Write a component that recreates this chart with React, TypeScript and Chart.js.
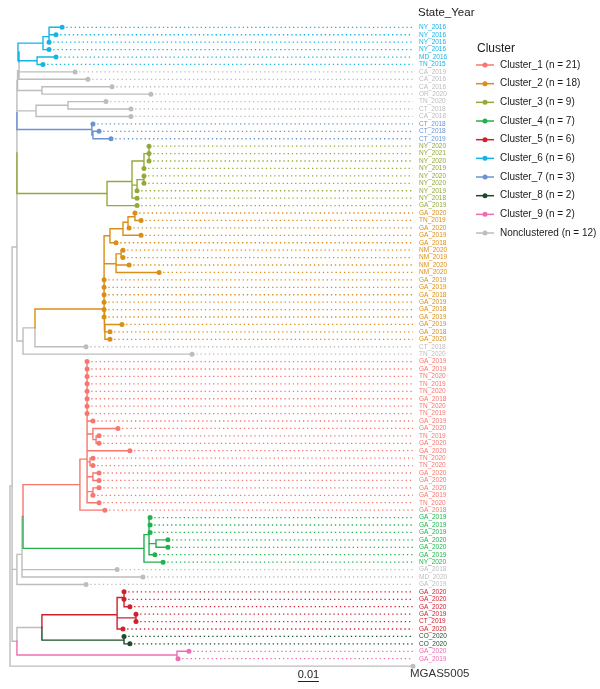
import React, { useEffect, useRef } from 'react';
import { Chart, registerables } from 'chart.js';
Chart.register(...registerables);

// ---------- DATA ----------
const TIP_LABELS = [
  'NY_2016','NY_2016','NY_2016','NY_2016','MD_2016','TN_2015',
  'CA_2019','CA_2016','CA_2016','OR_2020','TN_2020','CT_2018','CA_2018',
  'CT_2018','CT_2018','CT_2019',
  'NY_2020','NY_2021','NY_2020','NY_2019','NY_2020','NY_2020','NY_2019','NY_2018','GA_2019',
  'GA_2020','TN_2019','GA_2020','GA_2019','GA_2018','NM_2020','NM_2019','NM_2020','NM_2020',
  'GA_2019','GA_2019','GA_2018','GA_2019','GA_2018','GA_2019','GA_2019','GA_2018','GA_2020',
  'CT_2018','TN_2020',
  'GA_2019','GA_2019','TN_2020','TN_2019','TN_2020','GA_2018','TN_2020','TN_2019','GA_2019','GA_2020',
  'TN_2019','GA_2020','GA_2020','TN_2020','TN_2020','GA_2020','GA_2020','GA_2020','GA_2019','TN_2020','GA_2018',
  'GA_2019','GA_2019','GA_2019','GA_2020','GA_2020','GA_2019','NY_2020',
  'GA_2018','MD_2020','GA_2019',
  'GA_2020','GA_2020','GA_2020','GA_2019','CT_2019','GA_2020',
  'CO_2020','CO_2020',
  'GA_2020','GA_2019',
  'MGAS5005',
];

// cluster index per tip (0..8 = Cluster_1..Cluster_9, 9 = Nonclustered)
const TIP_CLUSTER = [
  5,5,5,5,5,5,
  9,9,9,9,9,9,9,
  6,6,6,
  2,2,2,2,2,2,2,2,2,
  1,1,1,1,1,1,1,1,1,1,1,1,1,1,1,1,1,1,
  9,9,
  0,0,0,0,0,0,0,0,0,0,0,0,0,0,0,0,0,0,0,0,0,
  3,3,3,3,3,3,3,
  9,9,9,
  4,4,4,4,4,4,
  7,7,
  8,8,
  9,
];

// tip depth from root (units of 0.001 substitutions/site)
const TIP_DEPTH = [
  24.8,21.9,18.6,18.6,21.9,15.7,
  31.0,37.1,48.6,67.1,45.7,57.6,57.6,
  39.5,42.4,48.1,
  66.2,66.2,66.2,63.8,63.8,63.8,60.5,60.5,60.5,
  59.5,62.4,56.7,62.4,50.5,53.8,53.8,56.7,71.0,44.8,44.8,44.8,44.8,44.8,44.8,53.3,47.6,47.6,
  36.2,86.7,
  36.7,36.7,36.7,36.7,36.7,36.7,36.7,36.7,39.5,51.4,42.4,42.4,57.1,39.5,39.5,42.4,42.4,42.4,39.5,42.4,45.2,
  66.7,66.7,66.7,75.2,75.2,69.0,72.9,
  51.0,63.3,36.2,
  54.3,54.3,57.1,60.0,60.0,53.8,
  54.3,57.1,
  85.2,80.0,
  191.9,
];

// Topology: "(children):depth" for internal nodes, tips given by 1-based position
const CLADE_6 = '((((1,2):18.6,3):18.6,4):15.7,(5,6):12.9):3.8';
const CLADE_7 = '(14,(15,16):39.5):39.0';
const CLADE_3 = '((((17,18,19):66.2,20):63.8,((21,22):63.8,23):60.5,24):58.1,25):46.2';
const CLADE_2A = '((((26,27):59.5,28):56.2,29):53.8,30):47.6';
const CLADE_2E = '((31,32):52.9,33,34):50.5';
const CLADE_1 = '(((46,47,48,49,50,51,52,53,54,(55,(56,57):41.0):39.5,58):36.7,(59,60):38.1,(61,62):39.5,((63,64):39.5,65):36.7):36.7,66):33.3';
const CLADE_4 = '((67,68,69,(70,71):69.5,72):66.2,73):63.8';
const CLADE_5 = '((77,(78,79):54.3):54.3,(80,81):60.0,82):51.0';
const CLADE_8 = '(83,84):54.3';
const CLADE_9 = '(85,86):79.5';

const CLADE_2 = `((${CLADE_2A},${CLADE_2E},35,36,37,38,39,40):44.8,(41,42,43):45.2):44.8`;
const UPPER = `((((((((${CLADE_6},7):4.3,8):4.3,(9,10):15.2):3.6,((11,12):27.6,13):12.4):3.3,${CLADE_7}):3.3,${CLADE_3}):3.3,((${CLADE_2},44):11.9,45):6.2):3.3`;
const MIDDLE = `(((${CLADE_1},${CLADE_4}):6.2,74,75):5.7,76):3.3`;
const LOWER = `((${CLADE_5},${CLADE_8}):15.2,${CLADE_9}):3.3`;
const TREE = `((${UPPER},${MIDDLE},${LOWER}):1.0,87):0`;

const CLUSTER_NAMES = ['Cluster_1','Cluster_2','Cluster_3','Cluster_4','Cluster_5','Cluster_6','Cluster_7','Cluster_8','Cluster_9','Nonclustered'];
const CLUSTER_COUNTS = [21, 18, 9, 7, 6, 6, 3, 2, 2, 12];
const CLUSTER_COLORS = ['#F8766D','#DB8E16','#93AA3A','#22B24C','#D0202E','#16B4E6','#6A93D4','#1B4D2C','#EE6DB0','#BDBDBD'];
const SCALE_BAR = 10; // 0.01 substitutions/site
const SCALE_BAR_LABEL = '0.01';
const LEGEND_TITLE = 'Cluster';
const TIP_TITLE = 'State_Year';

// ---------- TREE BUILD ----------
type TNode = { tip?: number; kids?: TNode[]; x: number; y: number; c: number };

function parseTree(src: string): TNode {
  const s = src.replace(/\s+/g, '');
  let i = 0;
  const num = () => {
    const st = i;
    while (i < s.length && /[0-9.\-]/.test(s[i])) i++;
    return parseFloat(s.slice(st, i));
  };
  const node = (): TNode => {
    if (s[i] === '(') {
      i++;
      const kids: TNode[] = [node()];
      while (s[i] === ',') { i++; kids.push(node()); }
      i++; // ')'
      i++; // ':'
      const d = num();
      const y = kids.reduce((a, k) => a + k.y, 0) / kids.length;
      const c0 = kids[0].c;
      const c = kids.every((k) => k.c === c0) ? c0 : 9;
      return { kids, x: d, y, c };
    }
    const t = num() - 1;
    return { tip: t, x: TIP_DEPTH[t], y: t, c: TIP_CLUSTER[t] };
  };
  return node();
}

function buildDatasets() {
  const root = parseTree(TREE);
  const branches: { x: number; y: number }[][] = CLUSTER_COLORS.map(() => []);
  const walk = (n: TNode) => {
    if (!n.kids) return;
    n.kids.forEach((k) => {
      branches[k.c].push({ x: n.x, y: n.y }, { x: n.x, y: k.y }, { x: k.x, y: k.y }, { x: NaN, y: NaN });
      walk(k);
    });
  };
  walk(root);
  const maxDepth = Math.max(...TIP_DEPTH);
  const dotted: { x: number; y: number }[][] = CLUSTER_COLORS.map(() => []);
  const points: { x: number; y: number }[][] = CLUSTER_COLORS.map(() => []);
  TIP_DEPTH.forEach((d, i) => {
    const c = TIP_CLUSTER[i];
    points[c].push({ x: d, y: i });
    if (d < maxDepth) dotted[c].push({ x: d, y: i }, { x: maxDepth, y: i }, { x: NaN, y: NaN });
  });
  const ds: any[] = [];
  CLUSTER_COLORS.forEach((col, c) => {
    ds.push({
      data: points[c], showLine: false, pointRadius: 2.5, pointHoverRadius: 2.5,
      pointBackgroundColor: col, pointBorderWidth: 0, order: 0,
    });
    ds.push({
      data: branches[c], showLine: true, pointRadius: 0, borderColor: col, borderWidth: 1.4,
      spanGaps: false, tension: 0, borderJoinStyle: 'miter', borderCapStyle: 'square', order: 1,
    });
    ds.push({
      data: dotted[c], showLine: true, pointRadius: 0, borderColor: col, borderWidth: 1.3,
      borderDash: [1.3, 2.9], spanGaps: false, tension: 0, order: 2,
    });
  });
  return ds;
}

const FONT = '"Liberation Sans", Arial, Helvetica, sans-serif';

const decorPlugin = {
  id: 'treeDecor',
  afterDraw(chart: any) {
    const ctx = chart.ctx as CanvasRenderingContext2D;
    const xs = chart.scales.x;
    const ys = chart.scales.y;
    ctx.save();
    ctx.textAlign = 'left';
    ctx.textBaseline = 'middle';
    // tip column title
    ctx.fillStyle = '#1a1a1a';
    ctx.font = `11.5px ${FONT}`;
    ctx.fillText(TIP_TITLE, ys.left + 2, 13);
    // outgroup label
    const og = TIP_DEPTH.length - 1;
    ctx.font = `11.5px ${FONT}`;
    ctx.fillStyle = '#333333';
    ctx.fillText(TIP_LABELS[og], xs.getPixelForValue(TIP_DEPTH[og]) - 3, ys.getPixelForValue(og) + 7.5);
    // scale bar
    const sx0 = xs.getPixelForValue(137.1);
    const sx1 = xs.getPixelForValue(137.1 + SCALE_BAR);
    ctx.strokeStyle = '#222';
    ctx.lineWidth = 1;
    ctx.beginPath();
    ctx.moveTo(sx0, 681.5);
    ctx.lineTo(sx1, 681.5);
    ctx.stroke();
    ctx.fillStyle = '#222';
    ctx.font = `11px ${FONT}`;
    ctx.textAlign = 'center';
    ctx.fillText(SCALE_BAR_LABEL, (sx0 + sx1) / 2, 675);
    // legend
    ctx.textAlign = 'left';
    ctx.fillStyle = '#1a1a1a';
    ctx.font = `12px ${FONT}`;
    ctx.fillText(LEGEND_TITLE, 477, 49);
    ctx.font = `10px ${FONT}`;
    CLUSTER_NAMES.forEach((name, i) => {
      const y = 65 + i * 18.67;
      const col = CLUSTER_COLORS[i];
      ctx.strokeStyle = col;
      ctx.lineWidth = 1.5;
      ctx.beginPath();
      ctx.moveTo(476, y);
      ctx.lineTo(494, y);
      ctx.stroke();
      ctx.fillStyle = col;
      ctx.beginPath();
      ctx.arc(485, y, 2.5, 0, Math.PI * 2);
      ctx.fill();
      ctx.fillStyle = '#1a1a1a';
      ctx.fillText(`${name} (n = ${CLUSTER_COUNTS[i]})`, 500, y);
    });
    ctx.restore();
  },
};

export default function App() {
  const ref = useRef<HTMLCanvasElement | null>(null);
  useEffect(() => {
    if (!ref.current) return;
    const nTips = TIP_LABELS.length - 1; // labelled tips (outgroup drawn separately)
    const chart = new Chart(ref.current, {
      type: 'scatter',
      data: { datasets: buildDatasets() },
      options: {
        animation: false,
        responsive: true,
        maintainAspectRatio: false,
        events: [],
        layout: { padding: { left: 4, right: 144, top: 8, bottom: 8 } },
        plugins: { legend: { display: false }, tooltip: { enabled: false } },
        scales: {
          x: { type: 'linear', display: false, min: -2.857, max: 193.33 },
          y: {
            type: 'linear',
            position: 'right',
            reverse: true,
            min: -2.6,
            max: 88.0,
            grid: { display: false, drawTicks: false },
            border: { display: false },
            afterBuildTicks: (s: any) => {
              s.ticks = TIP_LABELS.slice(0, nTips).map((_, i) => ({ value: i }));
            },
            afterFit: (s: any) => { s.width = 40; },
            ticks: {
              autoSkip: false,
              padding: 3,
              font: { family: FONT, size: 6.5 },
              color: (c: any) => CLUSTER_COLORS[TIP_CLUSTER[c.index] ?? 9],
              callback: (v: any) => TIP_LABELS[Math.round(Number(v))],
            },
          },
        },
      },
      plugins: [decorPlugin],
    } as any);
    return () => chart.destroy();
  }, []);
  return (
    <div style={{ position: 'absolute', left: 0, top: 0, width: 600, height: 689, background: '#fff' }}>
      <canvas ref={ref} />
    </div>
  );
}
